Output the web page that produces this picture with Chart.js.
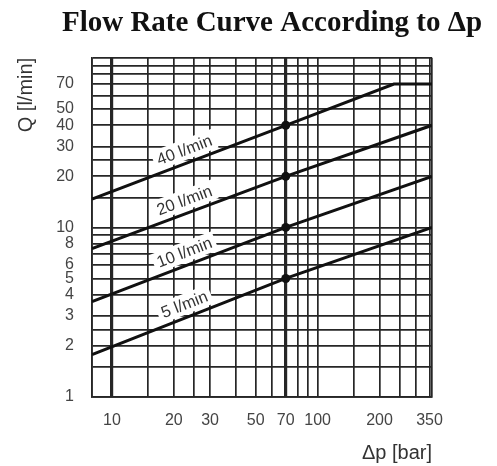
<!DOCTYPE html>
<html>
<head>
<meta charset="utf-8">
<script src="https://cdn.jsdelivr.net/npm/chart.js@4.4.0/dist/chart.umd.min.js"></script>
<style>
  html, body { margin: 0; padding: 0; background: #fff; }
  #wrap { width: 497px; height: 466px; }
</style>
</head>
<body>
<div id="wrap"><canvas id="grafico"></canvas></div>
<script>
// pressure difference (bar) where the curves are read
const dpPoints = [8, 70, 360];
const dpPoints40 = [8, 70, 235, 360];

// flow rate (l/min) read at those pressures
const q40 = [14.7, 40, 70, 70];
const q20 = [7.5, 20, 40];
const q10 = [3.65, 10, 20];
const q5 = [1.78, 5, 10];

const curveNames = ['40 l/min', '20 l/min', '10 l/min', '5 l/min'];

// marked points on the 70 bar line
const markDp = 70;
const markQ = [40, 20, 10, 5];

// grid lines and labelled ticks
const xGrid = [8, 10, 15, 20, 25, 30, 40, 50, 60, 70, 80, 90, 100, 150, 200, 250, 300, 350, 360];
const xLabels = [10, 20, 30, 50, 70, 100, 200, 350];
const xThick = [10, 70];
const yGrid = [1, 1.5, 2, 2.5, 3, 4, 5, 6, 7, 8, 9, 10, 15, 20, 25, 30, 40, 50, 60, 70, 80, 90, 100];
const yLabels = [1, 2, 3, 4, 5, 6, 8, 10, 20, 30, 40, 50, 70];

const sans = '"Liberation Sans", Arial, sans-serif';

function pontos(xs, ys) {
  return xs.map((x, i) => ({ x: x, y: ys[i] }));
}

// label on each curve, with white box behind (drawn under the curves)
const rotulosCurvas = {
  id: 'rotulosCurvas',
  beforeDatasetsDraw(chart) {
    const ctx = chart.ctx;
    const escalaX = chart.scales.x;
    chart.data.datasets.forEach((ds, i) => {
      if (!ds.curveName) return;
      const pts = chart.getDatasetMeta(i).data;
      const a = pts[0], b = pts[1];
      const ang = Math.atan2(b.y - a.y, b.x - a.x);
      const cx = escalaX.getPixelForValue(22.5);
      const cy = a.y + (cx - a.x) * Math.tan(ang) - 14;
      ctx.save();
      ctx.translate(cx, cy);
      ctx.rotate(ang);
      ctx.font = '16.5px ' + sans;
      const w = ctx.measureText(ds.label).width;
      ctx.fillStyle = '#fff';
      ctx.fillRect(-w / 2 - 4, -10, w + 8, 20);
      ctx.fillStyle = '#333';
      ctx.textAlign = 'center';
      ctx.textBaseline = 'middle';
      ctx.fillText(ds.label, 0, 1);
      ctx.restore();
    });
  }
};

const curvas = [
  pontos(dpPoints40, q40),
  pontos(dpPoints, q20),
  pontos(dpPoints, q10),
  pontos(dpPoints, q5)
];

const datasets = curvas.map((d, i) => ({
  label: curveNames[i],
  curveName: true,
  data: d,
  borderColor: '#111',
  borderWidth: 3,
  pointRadius: 0,
  tension: 0
}));

datasets.push({
  label: 'marks',
  data: markQ.map(q => ({ x: markDp, y: q })),
  showLine: false,
  pointRadius: 4.5,
  pointBackgroundColor: '#111',
  pointBorderWidth: 0
});

new Chart(document.getElementById('grafico'), {
  type: 'line',
  data: { datasets: datasets },
  options: {
    responsive: true,
    maintainAspectRatio: false,
    animation: false,
    // left padding shifts the centred title to the right like in the original
    layout: { padding: { left: 47, right: 0, top: 0, bottom: 0 } },
    plugins: {
      legend: { display: false },
      tooltip: { enabled: false },
      title: {
        display: true,
        text: 'Flow Rate Curve According to Δp',
        color: '#111',
        font: { family: '"Liberation Serif", "Times New Roman", serif', size: 29, weight: 'bold' },
        padding: { top: 6, bottom: 17 }
      }
    },
    scales: {
      x: {
        type: 'logarithmic',
        min: 8,
        max: 360,
        afterBuildTicks: s => { s.ticks = xGrid.map(v => ({ value: v })); },
        afterFit: s => { s.height = 69; s.paddingRight = 65; },
        ticks: {
          autoSkip: false,
          maxRotation: 0,
          padding: 14,
          color: '#444',
          font: { family: sans, size: 16 },
          callback: v => xLabels.includes(v) ? String(v) : ''
        },
        grid: {
          color: '#262626',
          lineWidth: c => (c.tick && xThick.includes(c.tick.value)) ? 3.2 : 1.7,
          drawTicks: false
        },
        border: { display: true, color: '#262626', width: 1.7 },
        title: {
          display: true,
          text: 'Δp [bar]',
          align: 'end',
          color: '#333',
          font: { family: sans, size: 20 },
          padding: { top: 0, bottom: 1 }
        }
      },
      y: {
        type: 'logarithmic',
        min: 1,
        max: 100,
        afterBuildTicks: s => { s.ticks = yGrid.map(v => ({ value: v })); },
        afterFit: s => { s.width = 45; },
        ticks: {
          autoSkip: false,
          padding: 18,
          color: '#444',
          font: { family: sans, size: 16 },
          callback: v => yLabels.includes(v) ? String(v) : ''
        },
        grid: {
          color: '#262626',
          lineWidth: 1.7,
          drawTicks: false
        },
        border: { display: true, color: '#262626', width: 1.7 },
        title: {
          display: true,
          text: 'Q [l/min]',
          align: 'end',
          color: '#333',
          font: { family: sans, size: 20 },
          padding: { top: -33, bottom: 0 }
        }
      }
    }
  },
  plugins: [rotulosCurvas]
});
</script>
</body>
</html>
